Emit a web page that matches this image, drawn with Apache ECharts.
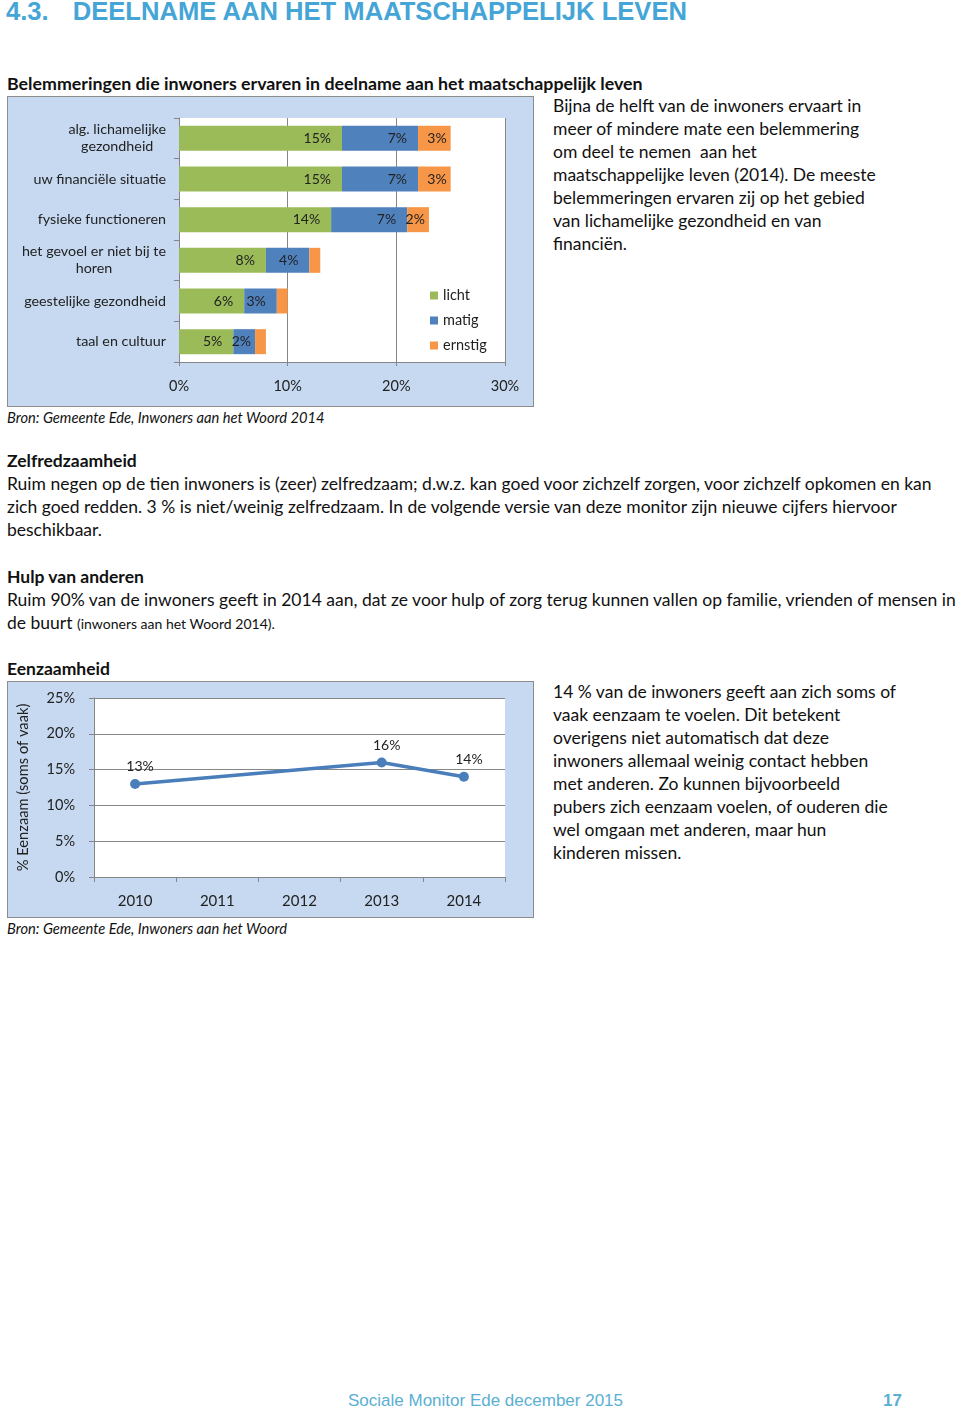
<!DOCTYPE html>
<html>
<head>
<meta charset="utf-8">
<script src="https://cdn.jsdelivr.net/npm/echarts@6/dist/echarts.min.js"></script>
<style>
    body { margin: 0; background: #fff; width: 960px; height: 1411px; position: relative; font-family: Lato, 'Open Sans', sans-serif; color: #111; }
    .abs { position: absolute; white-space: nowrap; }
    .body { font-size: 17.5px; line-height: 23px; }
    .head { font-size: 17.5px; line-height: 23px; font-weight: bold; }
    .bron { font-size: 14.7px; font-style: italic; }
    .title { font-family: 'Liberation Sans', Arial, sans-serif; font-weight: bold; font-size: 25.6px; color: #45a5d6; }
    .chartbox { position: absolute; border: 1px solid #8c8c8c; }
</style>
</head>
<body>
<div class="abs title" style="left:6px; top:-3px;">4.3.<span style="display:inline-block; width:24px;"></span>DEELNAME AAN HET MAATSCHAPPELIJK LEVEN</div>

<div class="abs head" style="left:7px; top:72px; font-size:17.8px;">Belemmeringen die inwoners ervaren in deelname aan het maatschappelijk leven</div>

<div class="abs body" style="left:553px; top:94px;">
Bijna de helft van de inwoners ervaart in<br>
meer of mindere mate een belemmering<br>
om deel te nemen&nbsp; aan het<br>
maatschappelijke leven (2014). De meeste<br>
belemmeringen ervaren zij op het gebied<br>
van lichamelijke gezondheid en van<br>
financiën.
</div>

<div id="barChart" class="chartbox" style="left:7px; top:96px; width:525px; height:309px;"></div>
<div class="abs bron" style="left:7px; top:408px;">Bron: Gemeente Ede, Inwoners aan het Woord 2014</div>

<div class="abs head" style="left:7px; top:449px;">Zelfredzaamheid</div>
<div class="abs body" style="left:7px; top:472px;">
Ruim negen op de tien inwoners is (zeer) zelfredzaam; d.w.z. kan goed voor zichzelf zorgen, voor zichzelf opkomen en kan<br>
zich goed redden. 3 % is niet/weinig zelfredzaam. In de volgende versie van deze monitor zijn nieuwe cijfers hiervoor<br>
beschikbaar.
</div>

<div class="abs head" style="left:7px; top:565px;">Hulp van anderen</div>
<div class="abs body" style="left:7px; top:588px;">
Ruim 90% van de inwoners geeft in 2014 aan, dat ze voor hulp of zorg terug kunnen vallen op familie, vrienden of mensen in<br>
de buurt <span style="font-size:14px;">(inwoners aan het Woord 2014).</span>
</div>

<div class="abs head" style="left:7px; top:657px;">Eenzaamheid</div>
<div id="lineChart" class="chartbox" style="left:7px; top:681px; width:525px; height:235px;"></div>
<div class="abs bron" style="left:7px; top:919px;">Bron: Gemeente Ede, Inwoners aan het Woord</div>

<div class="abs body" style="left:553px; top:680px;">
14 % van de inwoners geeft aan zich soms of<br>
vaak eenzaam te voelen. Dit betekent<br>
overigens niet automatisch dat deze<br>
inwoners allemaal weinig contact hebben<br>
met anderen. Zo kunnen bijvoorbeeld<br>
pubers zich eenzaam voelen, of ouderen die<br>
wel omgaan met anderen, maar hun<br>
kinderen missen.
</div>

<div class="abs" style="left:348px; top:1391px; font-family:'Liberation Sans', Arial, sans-serif; font-size:17px; color:#5aafd3;">Sociale Monitor Ede december 2015</div>
<div class="abs" style="left:883px; top:1391px; font-family:'Liberation Sans', Arial, sans-serif; font-size:17px; font-weight:bold; color:#5aafd3;">17</div>

<script>
// belemmeringen (% inwoners), per gebied
const barCategories = [
    'alg. lichamelijke\ngezondheid',
    'uw financiële situatie',
    'fysieke functioneren',
    'het gevoel er niet bij te\nhoren',
    'geestelijke gezondheid',
    'taal en cultuur'
];
const licht = [15, 15, 14, 8, 6, 5];
const matig = [7, 7, 7, 4, 3, 2];
const ernstig = [3, 3, 2, 1, 1, 1];
const barSeriesNames = ['licht', 'matig', 'ernstig'];

// eenzaamheid (% soms of vaak)
const years = ['2010', '2011', '2012', '2013', '2014'];
const eenzaam = [13, null, null, 16, 14];

const FONT = 'Lato, sans-serif';
const BOX_BG = '#c6d9f1';
const AXIS_GREY = '#868686';
const TEXT = '#222';
const barColors = ['#9bbb59', '#4f81bd', '#f79646'];

// labels sit a bit inside the bar end; narrow segments keep them near the edge
const barData = (values, seriesIndex) => values.map(v => ({
    value: v,
    label: { distance: (seriesIndex === 2 || v < 3) ? 4 : 11 }
}));

const barChart = echarts.init(document.getElementById('barChart'));
barChart.setOption({
    backgroundColor: BOX_BG,
    color: barColors,
    animation: false,
    grid: {
        left: 171,
        right: 28,
        top: 21,
        bottom: 44,
        outerBoundsMode: 'none',
        show: true,
        backgroundColor: '#fff',
        borderWidth: 0
    },
    legend: {
        data: barSeriesNames,
        orient: 'vertical',
        left: 417,
        top: 186,
        icon: 'rect',
        itemWidth: 8,
        itemHeight: 8,
        itemGap: 10,
        textStyle: { fontSize: 14.5, lineHeight: 14, fontFamily: FONT, color: TEXT }
    },
    xAxis: {
        type: 'value',
        min: 0,
        max: 30,
        interval: 10,
        axisLine: { show: true, lineStyle: { color: AXIS_GREY } },
        axisTick: { show: true, length: 4, lineStyle: { color: AXIS_GREY } },
        splitLine: { show: true, lineStyle: { color: AXIS_GREY } },
        axisLabel: { formatter: '{value}%', fontSize: 14.5, fontFamily: FONT, color: TEXT, margin: 17 }
    },
    yAxis: {
        type: 'category',
        inverse: true,
        data: barCategories,
        axisLine: { show: true, lineStyle: { color: AXIS_GREY } },
        axisTick: { show: true, length: 5, lineStyle: { color: AXIS_GREY } },
        axisLabel: {
            margin: 13,
            fontSize: 14.3,
            fontFamily: FONT,
            color: TEXT,
            lineHeight: 17,
            formatter: (v) => v.split('\n').map(s => '{c|' + s + '}').join('\n'),
            rich: { c: { align: 'center', fontSize: 14.3, fontFamily: FONT, color: TEXT, lineHeight: 17 } }
        }
    },
    series: barSeriesNames.map((name, i) => ({
        name: name,
        type: 'bar',
        stack: 'total',
        barWidth: 25,
        label: {
            show: true,
            position: 'insideRight',
            color: TEXT,
            fontSize: 14,
            fontFamily: FONT,
            formatter: (p) => (p.value >= 2 ? p.value + '%' : '')
        },
        data: barData([licht, matig, ernstig][i], i)
    }))
});

const lineChart = echarts.init(document.getElementById('lineChart'));
lineChart.setOption({
    backgroundColor: BOX_BG,
    animation: false,
    grid: {
        left: 86,
        right: 28,
        top: 16,
        bottom: 40,
        outerBoundsMode: 'none',
        show: true,
        backgroundColor: '#fff',
        borderWidth: 0
    },
    xAxis: {
        type: 'category',
        data: years,
        axisLine: { show: true, lineStyle: { color: AXIS_GREY } },
        axisTick: { show: true, length: 5, lineStyle: { color: AXIS_GREY } },
        axisLabel: { fontSize: 15, fontFamily: FONT, color: TEXT, margin: 17 }
    },
    yAxis: {
        type: 'value',
        min: 0,
        max: 25,
        interval: 5,
        name: '% Eenzaam (soms of vaak)',
        nameLocation: 'middle',
        nameGap: 63,
        nameTextStyle: { fontSize: 14.7, fontFamily: FONT, color: TEXT },
        axisLine: { show: true, lineStyle: { color: AXIS_GREY } },
        axisTick: { show: true, length: 5, lineStyle: { color: AXIS_GREY } },
        splitLine: { show: true, lineStyle: { color: AXIS_GREY } },
        axisLabel: { formatter: '{value}%', fontSize: 14.5, fontFamily: FONT, color: TEXT, margin: 19 }
    },
    series: [{
        name: 'eenzaam',
        type: 'line',
        data: eenzaam,
        connectNulls: true,
        symbol: 'circle',
        symbolSize: 10,
        itemStyle: { color: '#4a7ebb' },
        lineStyle: { color: '#4a7ebb', width: 3.5 },
        label: {
            show: true,
            position: 'top',
            distance: 5,
            offset: [5, 0],
            fontSize: 14,
            fontFamily: FONT,
            color: TEXT,
            formatter: '{c}%'
        }
    }]
});
</script>
</body>
</html>
